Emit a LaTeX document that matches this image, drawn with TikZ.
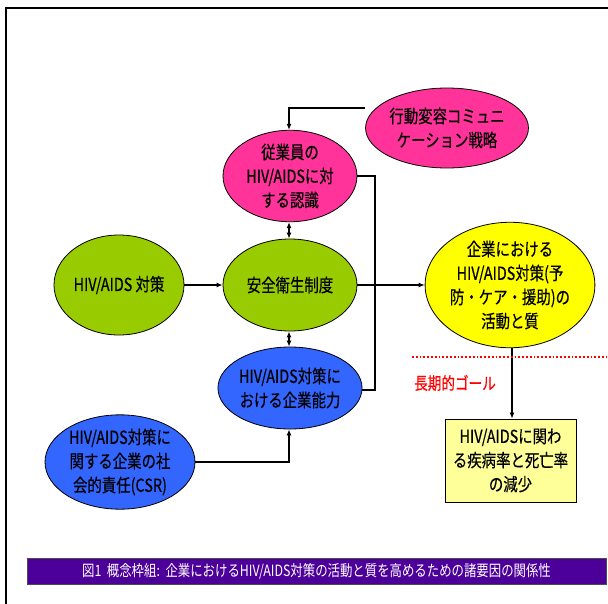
\documentclass[tikz,border=0pt]{standalone}
\usepackage{fontspec}
\newfontfamily\jp[FakeStretch=0.8,FakeBold=0.4]{Noto Sans CJK JP}
\newfontfamily\jpcap[FakeStretch=0.8]{Noto Sans CJK JP}
\usetikzlibrary{shapes.geometric,arrows.meta}
\definecolor{pinkc}{HTML}{FF3399}
\definecolor{greenc}{HTML}{99CC00}
\definecolor{yellowc}{HTML}{FFFF00}
\definecolor{bluec}{HTML}{3366FF}
\definecolor{boxc}{HTML}{FFFF99}
\definecolor{capc}{HTML}{4C0099}
\definecolor{redc}{HTML}{FF0000}
\begin{document}
\begin{tikzpicture}[x=1pt,y=-1pt,
  ell/.style={ellipse,draw=black,line width=0.8pt,inner sep=0pt,align=center,
    font=\jp\fontsize{18}{24}\selectfont},
  conn/.style={line width=1.8pt,-{Latex[length=6pt,width=5pt]}},
  dconn/.style={line width=1.8pt,{Latex[length=6pt,width=5pt]}-{Latex[length=6pt,width=5pt]}},
  plain/.style={line width=1.8pt}]
\useasboundingbox (0,0) rectangle (608,603);
\fill[white] (0,0) rectangle (608,603);
% frame
\draw[line width=1.8pt] (6,612) -- (6,8) -- (620,8);
% nodes
\node[ell,fill=pinkc,minimum width=130pt,minimum height=80pt] (beh) at (447,128) {行動変容コミュニ\\ケーション戦略};
\node[ell,fill=pinkc,minimum width=134pt,minimum height=84pt] (emp) at (290,176) {従業員の\\HIV/AIDSに対\\する認識};
\node[ell,fill=greenc,minimum width=130pt,minimum height=100pt] (hiv) at (119,285) {HIV/AIDS 対策};
\node[ell,fill=greenc,minimum width=134pt,minimum height=92pt] (safe) at (290,285) {安全衛生制度};
\node[ell,fill=yellowc,minimum width=158pt,minimum height=106pt] (yel) at (510,285) {企業における\\HIV/AIDS対策(予\\防・ケア・援助)の\\活動と質};
\node[ell,fill=bluec,minimum width=134pt,minimum height=82pt] (capa) at (290,388) {HIV/AIDS対策に\\おける企業能力};
\node[ell,fill=bluec,minimum width=150pt,minimum height=90pt] (csr) at (120,462) {HIV/AIDS対策に\\関する企業の社\\会的責任(CSR)};
\node[draw=black,line width=0.8pt,fill=boxc,minimum width=131pt,minimum height=83pt,inner sep=0pt,align=center,
  font=\jp\fontsize{18}{24}\selectfont] (goal) at (510.5,460.5) {HIV/AIDSに関わ\\る疾病率と死亡率\\の減少};
% junction coordinates
\coordinate (c1) at (289,108);
\coordinate (c2) at (375,176);
\coordinate (c3) at (375,390);
\coordinate (c4) at (289,462);
% connectors
\draw[conn] (beh.west |- 0,108) -- (c1) -- (emp.north -| c1);
\draw[dconn] (emp.south -| c1) -- (safe.north -| c1);
\draw[dconn] (safe.south -| c1) -- (capa.north -| c1);
\draw[conn] (hiv.east) -- (safe.west);
\draw[conn] (safe.east) -- (yel.west);
\draw[plain] (emp.east |- c2) -- (c2) -- (c3) -- (capa.east |- c3);
\draw[conn] (csr.east |- c4) -- (c4) -- (capa.south -| c4);
\draw[conn] (yel.south -| 512,0) -- (goal.north -| 512,0);
% long-term goal
\coordinate (d1) at (412,357);
\coordinate (d2) at (606,357);
\draw[redc,line width=1.8pt,dotted] (d1) -- (d2);
\node[text=redc,font=\jp\fontsize{17}{20}\selectfont,anchor=west,inner sep=0pt] (lt) at (414,383) {長期的ゴール};
% caption
\node[fill=capc,draw=black!70,line width=0.6pt,minimum width=579pt,minimum height=26pt,inner sep=0pt,
  text=white,font=\jpcap\fontsize{15.5}{18}\selectfont] (capt) at (316.5,571) {図1\ \ 概念枠組:\ \ 企業におけるHIV/AIDS対策の活動と質を高めるための諸要因の関係性};
\end{tikzpicture}
\end{document}
